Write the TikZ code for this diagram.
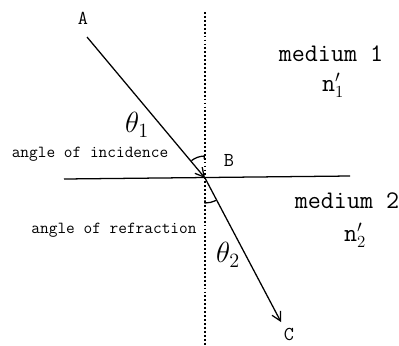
\documentclass[tikz,border=0pt]{standalone}
\usetikzlibrary{arrows.meta, positioning}

\begin{document}
\begin{tikzpicture}[
      x=0.025cm, y=0.025cm,
      ray/.style={line width=0.9pt},
      normal/.style={line width=1.5pt, dash pattern=on 1.3pt off 1.5pt},
      pt/.style={font=\ttfamily\fontsize{14}{14}\selectfont, inner sep=1pt},
      med/.style={font=\ttfamily\fontsize{18}{18}\selectfont, inner sep=0pt},
      lbl/.style={font=\ttfamily\fontsize{12}{12}\selectfont},
      ang/.style={font=\fontsize{20}{20}\selectfont},
      >={Straight Barb[length=2.2mm, width=2.4mm]}]
    \useasboundingbox (0,0) rectangle (399,345);
    % points of the rays
    \coordinate (A) at (87,308);
    \coordinate (B) at (205,167);
    \coordinate (C) at (281,23);
    \coordinate (ntop) at (205,333);
    \coordinate (nbot) at (205,0);
    \coordinate (sl) at (64,166);
    \coordinate (sr) at (350,169);
    % normal and surface
    \draw[normal] (ntop) -- (nbot);
    \draw[ray] (sl) -- (sr);
    % incident and refracted ray
    \draw[ray, ->] (A) -- (B);
    \draw[ray, ->] (B) -- (C);
    % angles
    \draw[ray] ([shift={(128:22)}]B) arc[start angle=128, end angle=92, radius=22] -- ++(0,-3);
    \draw[ray] ([shift={(-90:25)}]B) ++(0,3) -- ++(0,-3) arc[start angle=-90, end angle=-64, radius=25];
    % labels
    \node[pt] (lA) at (83,327) {A};
    \node[pt] (lB) at (229,185) {B};
    \node[pt] (lC) at (289,11) {C};
    \node[ang] (t1) at (137,220) {$\theta_1$};
    \node[ang] (t2) at (228,90) {$\theta_2$};
    \node[lbl] (inc) at (90,191) {angle of incidence};
    \node[lbl] (refr) at (114,115) {angle of refraction};
    \node[med] (m1) at (331,291) {medium 1};
    \node[med] (n1) at (333,260) {n$'_{1}$};
    \node[med] (m2) at (347,144) {medium 2};
    \node[med] (n2) at (355,110) {n$'_{2}$};
\end{tikzpicture}
\end{document}
